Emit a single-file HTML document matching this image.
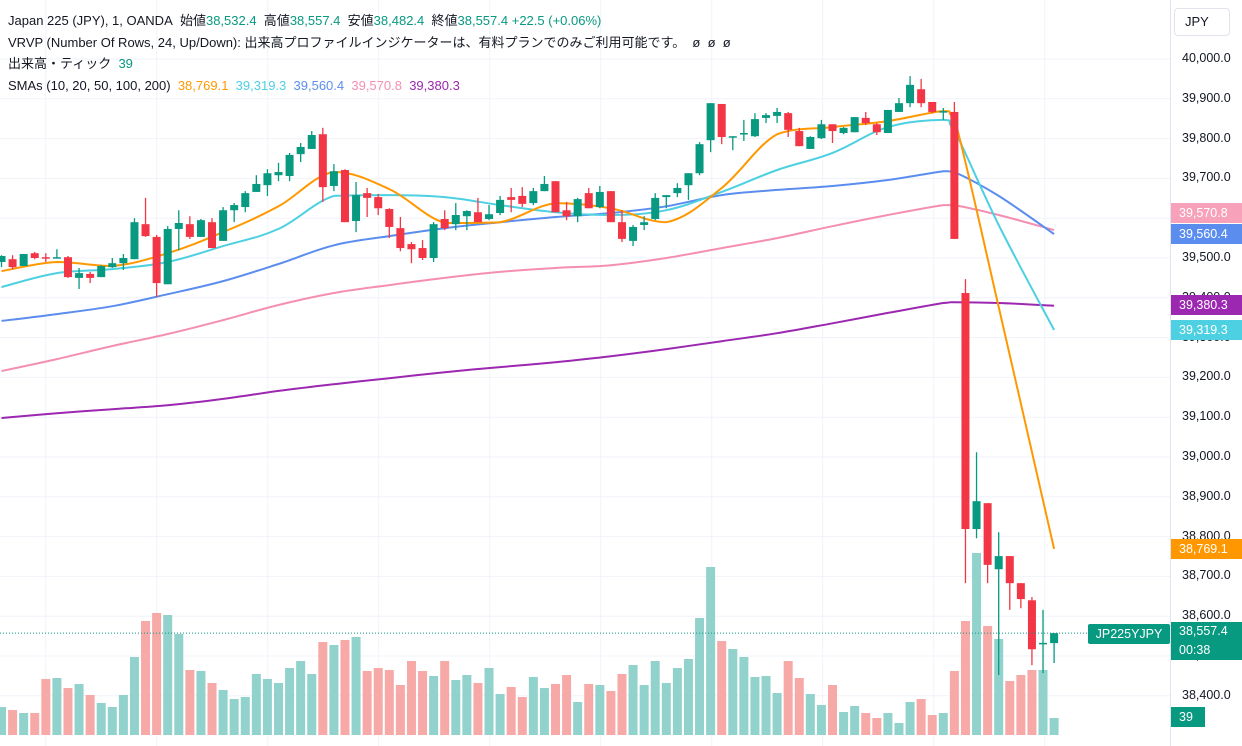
<!DOCTYPE html>
<html><head><meta charset="utf-8">
<style>
html,body{margin:0;padding:0;background:#fff;width:1242px;height:746px;overflow:hidden;font-family:"Liberation Sans","Noto Sans CJK JP",sans-serif;}
#legend{position:absolute;left:8px;top:10px;font-size:13px;color:#131722;line-height:21.5px;}
#legend div{white-space:nowrap}
.lbl{position:absolute;left:1171px;width:71px;height:20px;line-height:20px;font-size:12.5px;color:#fff;padding-left:8px;box-sizing:border-box;}
.tick{position:absolute;left:1182px;font-size:12.5px;color:#131722;}
</style></head><body>
<svg id="chart" width="1242" height="746" style="position:absolute;left:0;top:0">
<g id="grid"></g><g id="vol"></g><g id="smas"></g><g id="candles"></g><g id="axis"></g>
</svg>
<div id="legend">
<div>Japan 225 (JPY), 1, OANDA&nbsp; 始値<span style="color:#089981">38,532.4</span>&nbsp; 高値<span style="color:#089981">38,557.4</span>&nbsp; 安値<span style="color:#089981">38,482.4</span>&nbsp; 終値<span style="color:#089981">38,557.4</span> <span style="color:#089981">+22.5 (+0.06%)</span></div>
<div>VRVP (Number Of Rows, 24, Up/Down): 出来高プロファイルインジケーターは、有料プランでのみご利用可能です。 &nbsp;ø&nbsp; ø&nbsp; ø</div>
<div>出来高・ティック&nbsp; <span style="color:#089981">39</span></div>
<div>SMAs (10, 20, 50, 100, 200)&nbsp; <span style="color:#ff9800">38,769.1</span>&nbsp; <span style="color:#4dd0e1">39,319.3</span>&nbsp; <span style="color:#5b8def">39,560.4</span>&nbsp; <span style="color:#f48fb1">39,570.8</span>&nbsp; <span style="color:#9c27b0">39,380.3</span></div>
</div>
<div style="position:absolute;left:1174px;top:8px;width:56px;height:28px;border:1px solid #e0e3eb;border-radius:4px;box-sizing:border-box;font-size:13px;line-height:26px;padding-left:10px;color:#131722">JPY</div>
<div id="ticks"></div>
<div class="lbl" style="top:203px;background:#f7a1bb;">39,570.8</div>
<div class="lbl" style="top:224px;background:#5b8def;">39,560.4</div>
<div class="lbl" style="top:295px;background:#9c27b0;">39,380.3</div>
<div class="lbl" style="top:320px;background:#4dd0e1;">39,319.3</div>
<div class="lbl" style="top:539px;background:#ff9800;">38,769.1</div>
<div class="lbl" style="top:622px;height:38px;background:#089981;line-height:19px;">38,557.4<br>00:38</div>
<div style="position:absolute;left:1088px;top:624px;width:82px;height:20px;background:#089981;color:#fff;font-size:12.5px;line-height:20px;text-align:center;border-radius:2px">JP225YJPY</div>
<div class="lbl" style="top:707px;width:34px;background:#089981;">39</div>
<script>
const opens=[39490,39497,39480,39512,39502,39500,39502,39450,39460,39452,39477,39487,39497,39585,39553,39434,39573,39585,39553,39590,39543,39620,39628,39666,39683,39708,39706,39761,39774,39811,39681,39721,39593,39663,39653,39623,39575,39535,39525,39500,39598,39585,39605,39615,39598,39613,39653,39656,39638,39668,39693,39620,39605,39663,39628,39668,39590,39543,39583,39598,39653,39663,39683,39713,39796,39887,39804,39811,39806,39852,39857,39864,39819,39774,39801,39836,39814,39816,39852,39836,39814,39867,39889,39924,39892,39867,39867,39412,38819,38884,38718,38751,38683,38640,38532,38532.4];
const highs=[39507,39507,39510,39515,39512,39522,39505,39475,39465,39482,39500,39510,39600,39651,39558,39580,39620,39605,39598,39600,39628,39638,39668,39708,39723,39739,39764,39789,39819,39827,39736,39723,39691,39676,39661,39625,39603,39540,39545,39590,39620,39638,39620,39651,39633,39656,39676,39678,39676,39706,39693,39641,39651,39676,39681,39668,39620,39583,39605,39663,39658,39688,39713,39791,39889,39887,39806,39847,39864,39864,39877,39867,39827,39806,39847,39836,39829,39854,39867,39839,39872,39902,39957,39950,39892,39877,39892,39447,39012,38884,38811,38751,38683,38648,38616,38557.4];
const lows=[39477,39472,39480,39497,39490,39500,39450,39422,39437,39452,39475,39470,39497,39553,39402,39434,39520,39548,39553,39525,39543,39590,39615,39666,39656,39693,39693,39741,39774,39641,39668,39590,39565,39603,39608,39550,39517,39487,39495,39490,39570,39570,39570,39590,39595,39608,39615,39628,39633,39668,39615,39595,39590,39625,39625,39590,39540,39530,39570,39595,39625,39653,39646,39708,39766,39786,39771,39794,39804,39839,39839,39804,39781,39774,39799,39789,39811,39816,39834,39809,39814,39867,39879,39879,39864,39847,39548,38683,38796,38683,38452,38616,38620,38477,38457,38482.4];
const closes=[39505,39477,39510,39500,39501,39502,39452,39462,39450,39480,39487,39500,39590,39555,39437,39573,39588,39553,39595,39525,39620,39633,39663,39686,39713,39716,39759,39779,39809,39678,39718,39590,39658,39651,39625,39578,39525,39522,39500,39585,39575,39608,39618,39590,39610,39646,39646,39636,39668,39686,39615,39605,39648,39625,39666,39590,39548,39578,39590,39651,39658,39676,39713,39786,39889,39804,39806,39814,39849,39859,39867,39822,39781,39804,39836,39819,39827,39854,39839,39816,39872,39889,39935,39889,39867,39869,39548,38819,38889,38729,38751,38683,38643,38517,38533,38557.4];
const volumes=[28,25,22,22,56,57,47,51,40,32,28,40,78,114,122,120,101,65,64,52,45,36,38,61,56,52,67,74,61,93,90,95,98,64,67,65,50,74,64,59,74,55,60,52,67,41,48,38,58,47,51,60,33,51,50,44,61,70,50,74,52,67,76,117,168,94,86,78,58,59,42,74,57,41,30,50,23,29,22,17,22,12,33,36,20,22,64,114,182,109,96,54,60,65,65,17];
const smaIdx=[0,5,10,15,20,25,30,35,40,45,50,55,60,65,70,75,80,85,86,90,95];
const sma10=[39467,39490,39480,39512,39565,39630,39716,39673,39588,39590,39638,39625,39590,39676,39811,39829,39844,39869,39851,39377,38769];
const sma20=[39427,39462,39472,39490,39530,39573,39656,39658,39653,39633,39615,39608,39620,39666,39721,39764,39829,39847,39821,39583,39319];
const sma50=[39342,39359,39379,39409,39442,39485,39532,39555,39575,39590,39603,39613,39630,39658,39671,39681,39696,39718,39716,39656,39560];
const sma100=[39216,39246,39279,39309,39344,39382,39412,39432,39450,39465,39475,39482,39500,39525,39550,39580,39608,39633,39633,39608,39570];
const sma200=[39098,39110,39120,39130,39146,39166,39183,39198,39213,39226,39238,39253,39271,39291,39311,39336,39362,39387,39389,39387,39380];
const priceTicks=[40000,39900,39800,39700,39600,39500,39400,39300,39200,39100,39000,38900,38800,38700,38600,38500,38400];
const lastPrice=38557.4;

const NS='http://www.w3.org/2000/svg';
const X=i=>1.5+11.08*i;
const Y=p=>59+(40000-p)*0.398;
const V=v=>735-v;
function mk(tag,parent,attrs){const e=document.createElementNS(NS,tag);for(const k in attrs)e.setAttribute(k,attrs[k]);parent.appendChild(e);return e;}
const grid=document.getElementById('grid');
priceTicks.forEach(p=>{
  const l=mk('line',grid,{x1:0,x2:1170,y1:Y(p),y2:Y(p),stroke:'#f0f3fa','stroke-width':1});
  
  
});
for(let k=0;k<10;k++){
  const x=45.7+111*k;
  const l=mk('line',grid,{x1:x,x2:x,y1:0,y2:746,stroke:'#f0f3fa','stroke-width':1});
  
  
}
const ticksDiv=document.getElementById('ticks');
priceTicks.forEach(p=>{
  if(Math.abs(Y(p)-Y(lastPrice))<14)return;
  const d=document.createElement('div');d.className='tick';
  d.style.top=(Y(p)-8)+'px';
  d.textContent=p.toLocaleString('en-US')+'.0';
  
  
  ticksDiv.appendChild(d);
});
const axis=document.getElementById('axis');
const ab=mk('line',axis,{x1:1170.5,x2:1170.5,y1:0,y2:746,stroke:'#e0e3eb'});


const pl=mk('line',axis,{x1:0,x2:1170,y1:Y(lastPrice),y2:Y(lastPrice),stroke:'#089981','stroke-dasharray':'1 2'});



const vol=document.getElementById('vol');
volumes.forEach((v,i)=>{
  const up=closes[i]>=opens[i];
  const r=mk('rect',vol,{x:X(i)-4.5,y:V(v),width:9,height:v,fill:up?'#92d2cc':'#f7a9a7'});
  
  
});
function clamp(v,a,b){const lo=Math.min(a,b),hi=Math.max(a,b);return Math.max(lo,Math.min(hi,v));}
function smoothPath(pts){
  let d='M'+pts[0][0].toFixed(1)+','+pts[0][1].toFixed(1);
  const t=0.18;
  for(let i=0;i<pts.length-1;i++){
    const p0=pts[Math.max(0,i-1)],p1=pts[i],p2=pts[i+1],p3=pts[Math.min(pts.length-1,i+2)];
    const c1x=p1[0]+(p2[0]-p0[0])*t,c1y=clamp(p1[1]+(p2[1]-p0[1])*t,p1[1],p2[1]);
    const c2x=p2[0]-(p3[0]-p1[0])*t,c2y=clamp(p2[1]-(p3[1]-p1[1])*t,p1[1],p2[1]);
    d+=' C'+c1x.toFixed(1)+','+c1y.toFixed(1)+' '+c2x.toFixed(1)+','+c2y.toFixed(1)+' '+p2[0].toFixed(1)+','+p2[1].toFixed(1);
  }
  return d;
}
const smas=document.getElementById('smas');
[[sma200,'#9c27b0','sma200-line'],[sma100,'#f48fb1','sma100-line'],[sma50,'#5b8def','sma50-line'],[sma20,'#4dd0e1','sma20-line'],[sma10,'#ff9800','sma10-line']].forEach(([arr,c,n])=>{
  const pts=arr.map((p,k)=>[X(smaIdx[k]),Y(p)]);
  const pth=mk('path',smas,{d:smoothPath(pts),fill:'none',stroke:c,'stroke-width':2,'stroke-linejoin':'round'});
  
  
});
const cg=document.getElementById('candles');
opens.forEach((o,i)=>{
  const c=closes[i],up=c>=o,col=up?'#089981':'#f23645';
  const g=mk('g',cg,{});
  
  
  mk('line',g,{x1:X(i),x2:X(i),y1:Y(highs[i]),y2:Y(lows[i]),stroke:col,'stroke-width':1.3});
  const top=Y(Math.max(o,c)),h=Math.max(1.5,Math.abs(Y(o)-Y(c)));
  mk('rect',g,{x:X(i)-4,y:top,width:8,height:h,fill:col});
});
</script>
</body></html>
